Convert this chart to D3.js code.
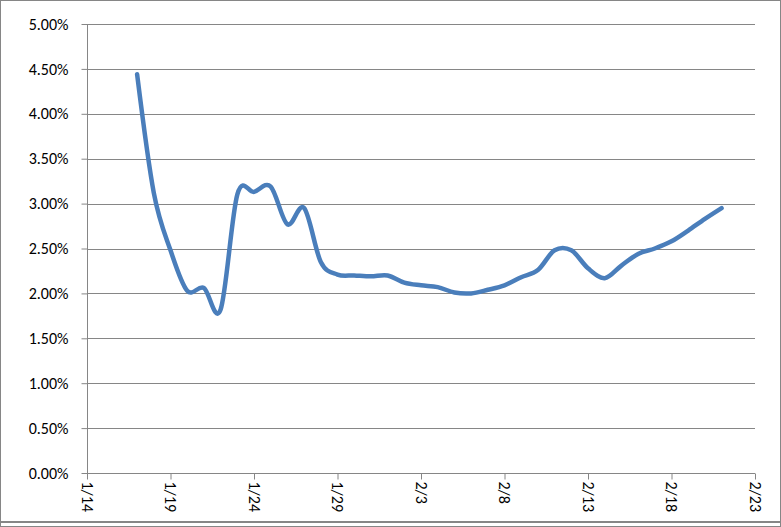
<!DOCTYPE html>
<html><head><meta charset="utf-8">
<script src="https://cdn.jsdelivr.net/npm/d3@7"></script>
<style>body{margin:0;background:#fff}svg{display:block}</style>
</head><body>
<svg id="c" width="781" height="527"></svg>
<script>
const dates = ["1/17","1/18","1/19","1/20","1/21","1/22","1/23","1/24","1/25","1/26","1/27","1/28","1/29","1/30","1/31","2/1","2/2","2/3","2/4","2/5","2/6","2/7","2/8","2/9","2/10","2/11","2/12","2/13","2/14","2/15","2/16","2/17","2/18","2/19","2/20","2/21"];
const values = [4.44,3.12,2.48,2.03,2.06,1.82,3.10,3.13,3.19,2.77,2.95,2.35,2.21,2.20,2.19,2.20,2.12,2.09,2.07,2.01,2.00,2.04,2.09,2.18,2.26,2.48,2.48,2.28,2.17,2.31,2.44,2.50,2.58,2.70,2.83,2.95];
const xTickLabels = ["1/14","1/19","1/24","1/29","2/3","2/8","2/13","2/18","2/23"];
const yTicks = [0,0.5,1,1.5,2,2.5,3,3.5,4,4.5,5];

const year = 2011;
const parse = s => { const [m,d] = s.split("/").map(Number); return new Date(year, m-1, d); };
const svg = d3.select("#c");
const L = 87, R = 755, T = 24, B = 473;
const x = d3.scaleTime().domain([parse(xTickLabels[0]), parse(xTickLabels[xTickLabels.length-1])]).range([L, R]);
const y = d3.scaleLinear().domain([0, 5]).range([B, T]);
const grid = "#868686";

svg.append("rect").attr("x",0.5).attr("y",0.5).attr("width",780).attr("height",526)
  .attr("fill","#fff").attr("stroke",grid);

svg.append("g").selectAll("line").data(yTicks.slice(1)).join("line")
  .attr("x1",L).attr("x2",R).attr("y1",d=>Math.round(y(d))+0.5).attr("y2",d=>Math.round(y(d))+0.5)
  .attr("stroke",grid).attr("stroke-width",1);

const yAxis = svg.append("g").attr("transform",`translate(${L+0.5},0)`)
  .call(d3.axisLeft(y).tickValues(yTicks).tickSize(6).tickPadding(13).tickFormat(d=>d.toFixed(2)+"%"));
yAxis.selectAll("line").attr("stroke",grid);
yAxis.select(".domain").attr("stroke",grid).attr("d",`M0,${T}V${B}`);
yAxis.selectAll("text").attr("font-family","Carlito, 'Liberation Sans', sans-serif").attr("font-size",16).attr("fill","#000");

const xAxis = svg.append("g").attr("transform",`translate(0,${B+0.5})`)
  .call(d3.axisBottom(x).tickValues(xTickLabels.map(parse)).tickSize(6).tickFormat((d,i)=>xTickLabels[i]));
xAxis.selectAll("line").attr("stroke",grid);
xAxis.select(".domain").attr("stroke",grid).attr("d",`M${L},0H${R}`);
xAxis.selectAll("text")
  .attr("font-family","Carlito, 'Liberation Sans', sans-serif").attr("font-size",16).attr("fill","#000")
  .attr("text-anchor","start").attr("dy","0.35em").attr("transform","translate(0,8) rotate(90)").attr("x",0).attr("y",0);

const line = d3.line().x((d,i)=>x(parse(dates[i]))).y(d=>y(d)).curve(d3.curveCardinal.tension(0));
svg.append("path").datum(values).attr("d",line).attr("fill","none")
  .attr("stroke","#4A7EBB").attr("stroke-width",4.5).attr("stroke-linecap","round").attr("stroke-linejoin","round");

svg.append("rect").attr("x",0).attr("y",521).attr("width",781).attr("height",6).attr("fill","#fff");
svg.append("rect").attr("x",0.5).attr("y",0.5).attr("width",780).attr("height",526)
  .attr("fill","none").attr("stroke",grid);
svg.append("line").attr("x1",0).attr("x2",781).attr("y1",522).attr("y2",522).attr("stroke",grid).attr("stroke-width",2);
</script>
</body></html>
